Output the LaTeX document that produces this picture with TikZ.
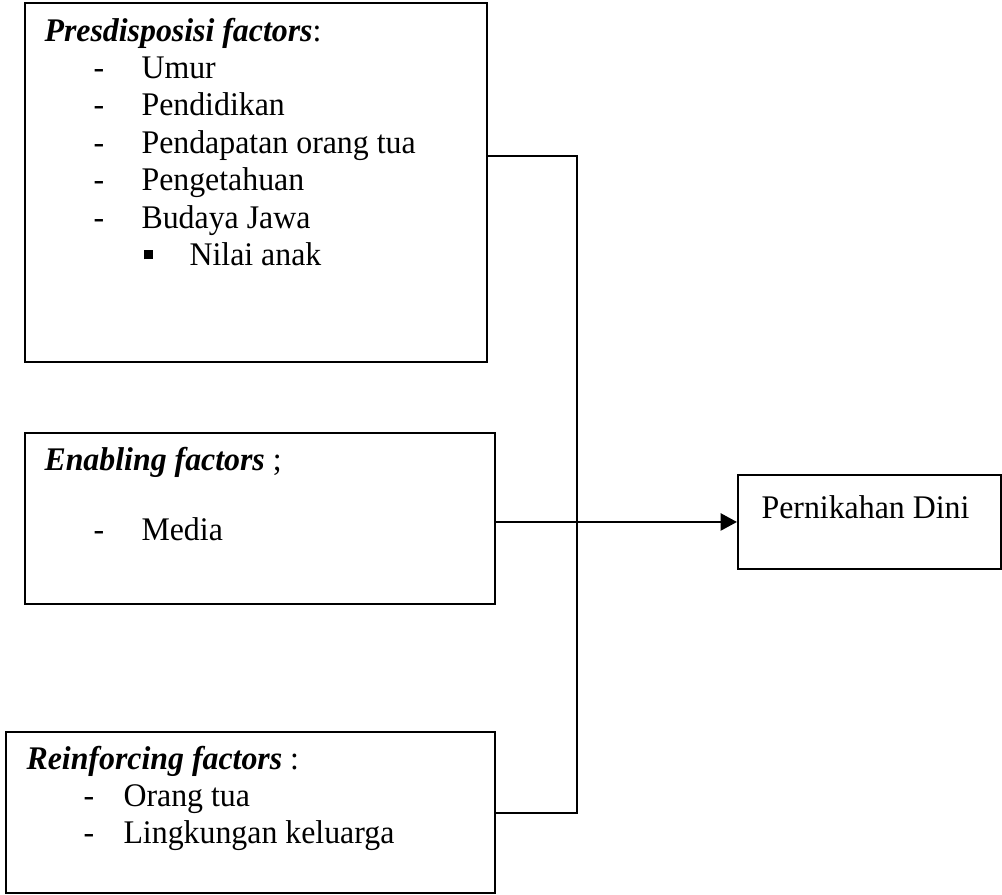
\documentclass[tikz,border=0pt]{standalone}
\usepackage{fontspec}
\setmainfont{Liberation Serif}[FakeStretch=0.965]
\usetikzlibrary{arrows.meta}
\newlength\px
\setlength\px{0.3636pt}
\newcommand\itm[2][49]{\hspace*{#1\px}\makebox[\dimexpr97\px-#1\px\relax][l]{-}#2}
\newcommand\sqitm[1]{\hspace*{99\px}\makebox[46\px][l]{\rule[6\px]{9\px}{9\px}}#1}

\begin{document}
\begin{tikzpicture}[
			x=0.3636pt,y=-0.3636pt,
			box/.style={draw,line width=0.7pt,anchor=north west,inner sep=0pt},
			txt/.style={anchor=base west,inner sep=0pt,font=\fontsize{12}{13.6}\selectfont},
			link/.style={line width=0.7pt},
			arrow/.style={line width=1pt,-{Triangle[length=6pt,width=6.2pt]}}
		]
		\useasboundingbox (0,0) rectangle (1002,894);
		% kotak faktor
		\node[box,minimum width=462\px,minimum height=359\px] (pre) at (24,2) {};
		\node[box,minimum width=470\px,minimum height=171\px] (ena) at (24,432) {};
		\node[box,minimum width=489\px,minimum height=161\px] (rei) at (5,731) {};
		\node[box,minimum width=263\px,minimum height=94\px] (dini) at (737,474) {};
		% isi kotak
		\node[txt] (preT) at (44,41) {\begin{tabular}[t]{@{}l@{}}
				\textbf{\textit{Presdisposisi factors}}:\\
				\itm{Umur}\\
				\itm{Pendidikan}\\
				\itm{Pendapatan orang tua}\\
				\itm{Pengetahuan}\\
				\itm{Budaya Jawa}\\
				\sqitm{Nilai anak}
			\end{tabular}};
		\node[txt] (enaT) at (44,470) {\begin{tabular}[t]{@{}l@{}}
				\textbf{\textit{Enabling factors}} ;\\
				\\[-1.4pt]
				\itm{Media}
			\end{tabular}};
		\node[txt] (reiT) at (26,769) {\begin{tabular}[t]{@{}l@{}}
				\textbf{\textit{Reinforcing factors}} :\\
				\itm[57]{Orang tua}\\
				\itm[57]{Lingkungan keluarga}
			\end{tabular}};
		\node[txt] (diniT) at (761,518) {Pernikahan Dini};
		% garis penghubung
		\coordinate (j1) at (577,156);
		\coordinate (j3) at (577,813);
		\draw[link] (pre.east |- j1) -- (j1) -- (j3) -- (rei.east |- j3);
		\draw[arrow] (ena.east |- dini.west) -- (dini.west);
	\end{tikzpicture}
\end{document}
